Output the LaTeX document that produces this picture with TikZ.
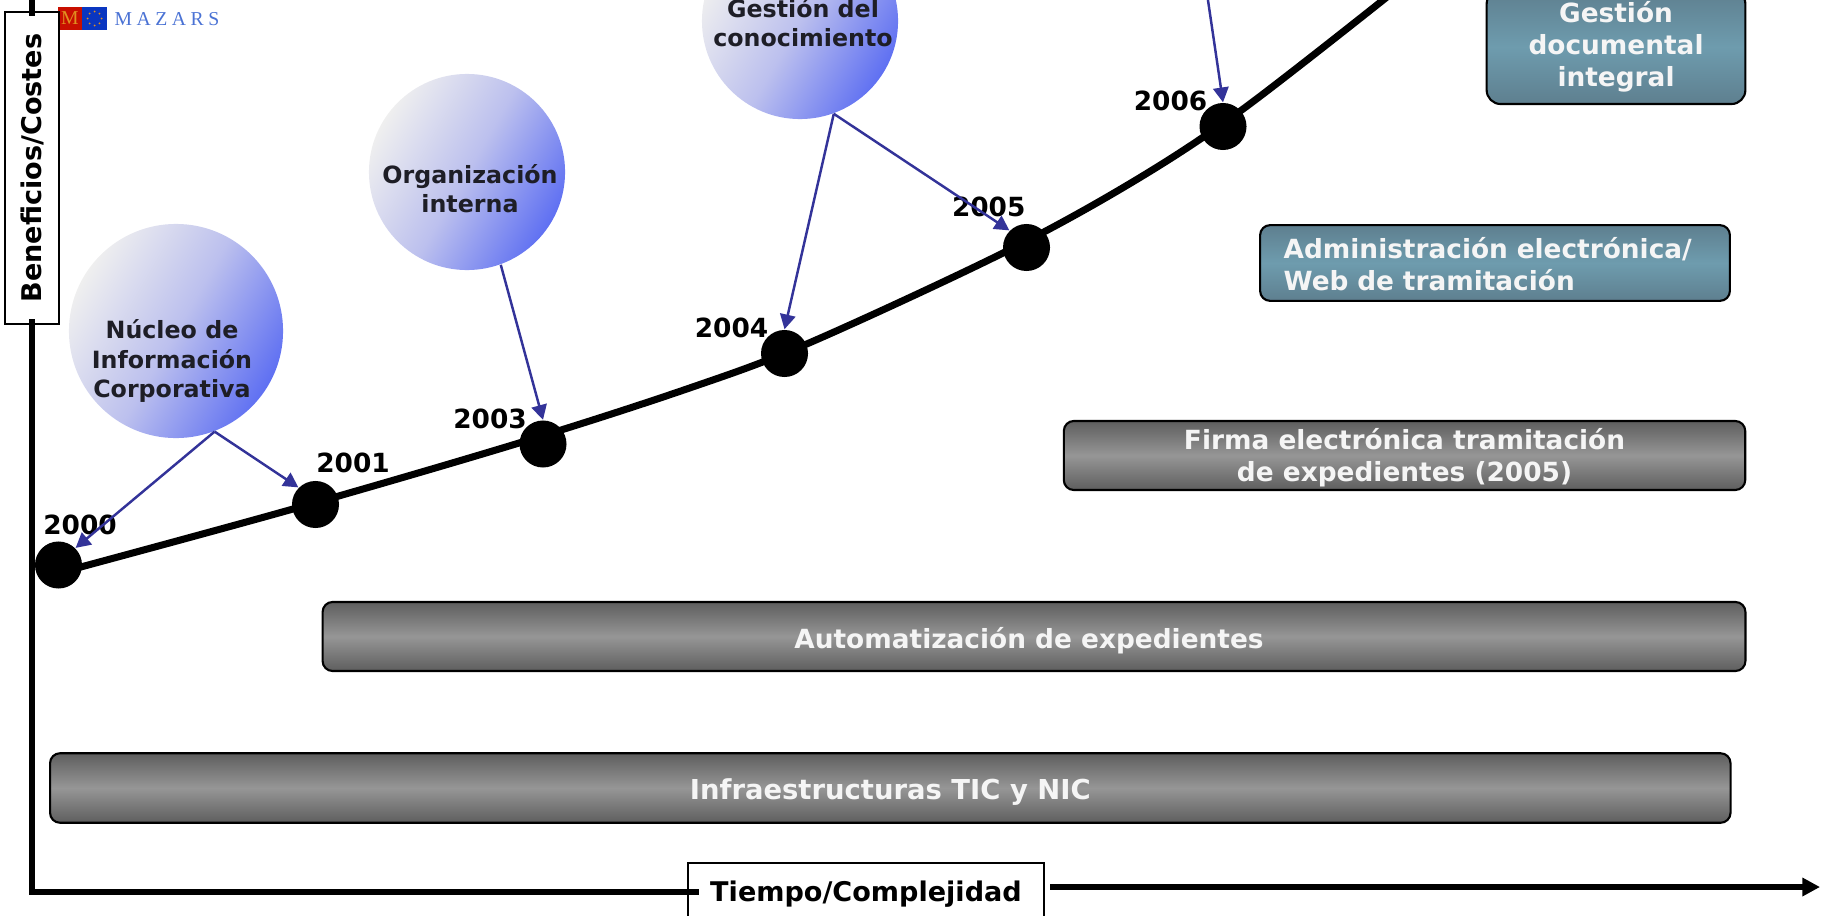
\documentclass[tikz,border=0pt]{standalone}
\usepackage{fontspec}
\setmainfont{DejaVu Sans}
\newfontfamily\logofont[LetterSpace=23]{Liberation Serif}
\usetikzlibrary{arrows.meta}
\definecolor{arrowblue}{HTML}{333399}
\definecolor{bubblegray}{HTML}{EFEFEF}
\definecolor{bubblemid}{HTML}{BCC0EE}
\definecolor{bubbleblue}{HTML}{5F70F2}
\definecolor{bardark}{HTML}{5E5E5E}
\definecolor{barlight}{HTML}{969696}
\definecolor{tealdark}{HTML}{5E7F8F}
\definecolor{teallight}{HTML}{6E9CAE}
\definecolor{logored}{HTML}{C80F00}
\definecolor{logoblue}{HTML}{0A36C0}
\definecolor{logoorange}{HTML}{E09020}
\definecolor{logotext}{HTML}{4A72D4}
\definecolor{bubbleink}{HTML}{1E1E26}
\tikzset{
  yeardot/.style={circle,fill=black,minimum size=0.47cm,inner sep=0pt},
  yearlabel/.style={font=\fontsize{7.5}{9}\selectfont\bfseries,inner sep=0pt},
  bubble/.style={circle,top color=bubblegray,bottom color=bubbleblue,middle color=bubblemid,shading angle=60,inner sep=0pt},
  bubbletext/.style={font=\fontsize{6.75}{8.3}\selectfont\bfseries,text=bubbleink,align=center,inner sep=0pt},
  barbox/.style={draw=black,line width=0.6pt,rounded corners=0.1cm,inner sep=0pt,align=center,text=white!96!black,
    font=\fontsize{7.5}{9.1}\selectfont\bfseries,top color=bardark,bottom color=bardark,middle color=barlight},
  tealbox/.style={barbox,top color=tealdark,bottom color=tealdark,middle color=teallight},
  axisbox/.style={draw=black,line width=0.6pt,fill=white,inner sep=0pt,font=\fontsize{7.7}{9}\selectfont\bfseries},
  axisline/.style={line width=1.9pt},
  curveline/.style={line width=2pt},
  linkarrow/.style={draw=arrowblue,line width=0.7pt,-{Triangle[length=4.2pt,width=4.4pt]}}
}
\begin{document}
\begin{tikzpicture}[x=0.01cm,y=-0.01cm]
  \path[use as bounding box,clip] (0,0) rectangle (1825,915);

  % Logo
  \node[fill=logored,minimum width=0.245cm,minimum height=0.23cm,inner sep=0pt,text=logoorange,font=\logofont\fontsize{5.6}{6}\selectfont] (logom) at (69.8,18.5) {M};
  \node[fill=logoblue,minimum width=0.25cm,minimum height=0.23cm,inner sep=0pt] (logoeu) at (94.5,18.5) {};
  \foreach \ang in {0,45,...,315}
    \fill[logoorange] (94.5,18.5) ++(\ang:7) circle (1);
  \node[text=logotext,inner sep=0pt,font=\logofont\fontsize{5.6}{6}\selectfont] (logoname) at (167,19) {MAZARS};

  % Axes
  \node[axisbox,rotate=90,minimum width=3.12cm,minimum height=0.54cm] (benefits) at (32,168) {Beneficios/Costes};
  \node[axisbox,minimum width=3.56cm,minimum height=0.57cm,text height=7.3pt] (timebox) at (866,891.5) {Tiempo/Complejidad};
  \coordinate (axistop) at (32,-5);
  \coordinate (axistopend) at (32,16);
  \coordinate (axisleft) at (32,319);
  \coordinate (axisright) at (699,892);
  \coordinate (arrowstart) at (1050,887);
  \coordinate (arrowend) at (1820,887);
  \draw[axisline] (axistop) -- (axistopend);
  \draw[axisline] (axisleft) |- (axisright);
  \draw[axisline,-{Triangle[length=5pt,width=5pt]}] (arrowstart) -- (arrowend);

  % Bars
  \node[barbox,minimum width=16.795cm,minimum height=0.695cm,text height=8.2pt,font=\fontsize{7.8}{9.1}\selectfont\bfseries] (infra) at (890.3,788) {Infraestructuras TIC y NIC};
  \node[barbox,minimum width=14.22cm,minimum height=0.69cm,text height=8.2pt] (autom) at (1034,636.5) {Automatización de expedientes\hspace{0.1cm}};
  \node[barbox,minimum width=6.81cm,minimum height=0.69cm] (firma) at (1404.5,455.5) {\rule{0pt}{7.1pt}Firma electrónica tramitación\\de expedientes (2005)};
  \node[tealbox,minimum width=4.695cm,minimum height=0.757cm,text width=4.225cm,align=left] (admin) at (1495,263) {\rule{0pt}{6.6pt}Administración electrónica/\\Web de tramitación};
  \node[tealbox,rounded corners=0.14cm,minimum width=2.586cm,minimum height=1.14cm] (gestdoc) at (1616,47) {Gestión\\documental\\integral};

  % Bubbles
  \node[bubble,minimum size=2.14cm] (nucleo) at (176,331) {};
  \node[bubbletext] (nucleotext) at (172,361) {Núcleo de\\Información\\Corporativa};
  \node[bubble,minimum size=1.96cm] (organiz) at (467,172) {};
  \node[bubbletext] (organiztext) at (470,188.5) {Organización\\interna};
  \node[bubble,minimum size=1.96cm] (gestion) at (800,21) {};
  \node[bubbletext] (gestiontext) at (803,22.5) {Gestión del\\conocimiento};

  % Growth curve
  \draw[curveline] plot[smooth,tension=0.55] coordinates {(58.5,573) (293,509) (520,442.7) (686.7,389) (806.7,344) (1003,253) (1133,181.7) (1241.7,110) (1392,-7)};

  % Year dots
  \node[yeardot] (d2000) at (58.5,565) {};
  \node[yeardot] (d2001) at (315.5,504.5) {};
  \node[yeardot] (d2003) at (543,444) {};
  \node[yeardot] (d2004) at (784.5,353.5) {};
  \node[yeardot] (d2005) at (1026.5,247.5) {};
  \node[yeardot] (d2006) at (1223,126.5) {};

  % Year labels
  \node[yearlabel] (y2000) at (80,525) {2000};
  \node[yearlabel] (y2001) at (353,463) {2001};
  \node[yearlabel] (y2003) at (490,419) {2003};
  \node[yearlabel] (y2004) at (731.5,328) {2004};
  \node[yearlabel] (y2005) at (988.7,207) {2005};
  \node[yearlabel] (y2006) at (1170.5,100.7) {2006};

  % Arrows
  \coordinate (toparrow) at (1205,-20);
  \draw[linkarrow] (nucleo.-69) -- (d2000.45);
  \draw[linkarrow] (nucleo.-69) -- (d2001.135);
  \draw[linkarrow] (organiz.-70) -- (d2003.90);
  \draw[linkarrow] (gestion.-70) -- (d2004.90);
  \draw[linkarrow] (gestion.-70) -- (d2005.135);
  \draw[linkarrow] (toparrow) -- (d2006.90);

\end{tikzpicture}
\end{document}
